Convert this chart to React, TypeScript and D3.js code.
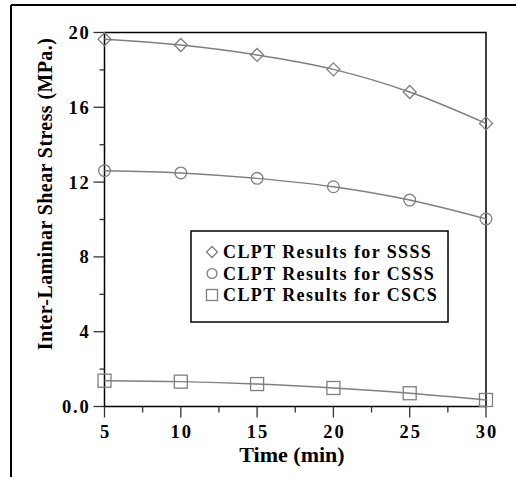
import React from "react";
import * as d3 from "d3";

const times = [5, 10, 15, 20, 25, 30];
const ssss = [19.64, 19.33, 18.8, 18.03, 16.82, 15.14];
const csss = [12.61, 12.49, 12.2, 11.75, 11.04, 10.03];
const cscs = [1.38, 1.33, 1.2, 0.99, 0.71, 0.35];
const xTicks = [5, 10, 15, 20, 25, 30];
const xMinor = [7.5, 12.5, 17.5, 22.5, 27.5];
const yTicks = [0, 4, 8, 12, 16, 20];
const yTickLabels = ["0.0", "4", "8", "12", "16", "20"];
const yMinor = [2, 6, 10, 14, 18];
const legendLabels = ["CLPT Results for SSSS", "CLPT Results for CSSS", "CLPT Results for CSCS"];

const W = 516, H = 477;
const L = 104.5, R = 486, T = 32.5, B = 406.5;
const FONT = "'Liberation Serif', 'Times New Roman', serif";
const GREY = "#7f7f7f";

function Marker({ kind, x, y, s }: { kind: string; x: number; y: number; s: number }) {
  if (kind === "diamond")
    return <path d={`M${x},${y - s}L${x + s},${y}L${x},${y + s}L${x - s},${y}Z`} fill="none" stroke={GREY} strokeWidth={1.3} />;
  if (kind === "circle") return <circle cx={x} cy={y} r={s * 0.9} fill="none" stroke={GREY} strokeWidth={1.3} />;
  return <rect x={x - s} y={y - s} width={2 * s} height={2 * s} fill="none" stroke={GREY} strokeWidth={1.3} />;
}

export default function App() {
  const x = d3.scaleLinear().domain([5, 30]).range([L, R]);
  const y = d3.scaleLinear().domain([0, 20]).range([B, T]);
  const line = d3.line<number>().x((_, i) => x(times[i])).y((d) => y(d)).curve(d3.curveMonotoneX);
  const series = [
    { vals: ssss, kind: "diamond", s: 6.5 },
    { vals: csss, kind: "circle", s: 6.5 },
    { vals: cscs, kind: "square", s: 6.5 },
  ];
  const legX = 191, legY = 231, legW = 257, legH = 91;
  return (
    <svg width={W} height={H} style={{ position: "absolute", left: 0, top: 0 }} fontFamily={FONT}>
      <rect width={W} height={H} fill="#fff" />
      <line x1={11} y1={5} x2={W} y2={5} stroke="#000" strokeWidth={2} />
      <line x1={11} y1={5} x2={11} y2={H} stroke="#000" strokeWidth={2} />
      <rect x={L} y={T} width={R - L} height={B - T} fill="none" stroke="#000" strokeWidth={1.5} />
      {yTicks.map((t, i) => (
        <g key={"y" + t}>
          <line x1={L - 11} x2={L} y1={y(t)} y2={y(t)} stroke="#333" strokeWidth={1.3} />
          <text x={L - 14} y={y(t)} dy="0.35em" textAnchor="end" fontSize={18.5} fontWeight="bold" letterSpacing={1.8}>{yTickLabels[i]}</text>
        </g>
      ))}
      {yMinor.map((t) => (
        <line key={"ym" + t} x1={L - 5} x2={L} y1={y(t)} y2={y(t)} stroke="#333" strokeWidth={1.3} />
      ))}
      {xTicks.map((t) => (
        <g key={"x" + t}>
          <line x1={x(t)} x2={x(t)} y1={B} y2={B + 11} stroke="#333" strokeWidth={1.3} />
          <text x={x(t) + 1} y={438} textAnchor="middle" fontSize={18.5} fontWeight="bold" letterSpacing={2}>{t}</text>
        </g>
      ))}
      {xMinor.map((t) => (
        <line key={"xm" + t} x1={x(t)} x2={x(t)} y1={B} y2={B + 6} stroke="#333" strokeWidth={1.3} />
      ))}
      <text x={292} y={462} textAnchor="middle" fontSize={22} fontWeight="bold">Time (min)</text>
      <text transform={`translate(52,194) rotate(-90)`} textAnchor="middle" fontSize={20} fontWeight="bold" letterSpacing={0.4}>
        Inter-Laminar Shear Stress (MPa.)
      </text>
      {series.map((s, si) => (
        <g key={si}>
          <path d={line(s.vals) || ""} fill="none" stroke={GREY} strokeWidth={1.4} />
          {s.vals.map((v, i) => (
            <Marker key={i} kind={s.kind} x={x(times[i])} y={y(v)} s={s.s} />
          ))}
        </g>
      ))}
      <rect x={legX} y={legY} width={legW} height={legH} fill="#fff" stroke="#000" strokeWidth={1.5} />
      {legendLabels.map((lab, i) => (
        <g key={lab}>
          <Marker kind={series[i].kind} x={212} y={252 + i * 21.5} s={5.5} />
          <text x={223} y={252 + i * 21.5} dy="0.35em" fontSize={18} fontWeight="bold" letterSpacing={1.4}>{lab}</text>
        </g>
      ))}
    </svg>
  );
}
